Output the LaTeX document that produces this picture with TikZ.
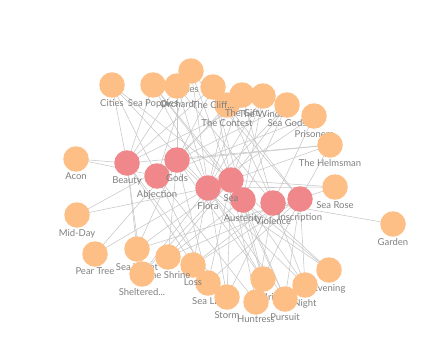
\documentclass[tikz,border=0pt]{standalone}
\usepackage{fontspec}
\setmainfont{Lato}
\pgfdeclarelayer{back}
\pgfdeclarelayer{bg}
\pgfsetlayers{back,bg,main}
\definecolor{orangenode}{RGB}{253,191,134}
\definecolor{rednode}{RGB}{239,135,139}
\definecolor{edgegray}{RGB}{200,200,200}
\definecolor{labelgray}{RGB}{128,128,128}
\tikzset{
  lbl/.style={text=labelgray,font=\fontsize{9.5}{10}\selectfont,inner sep=1pt,label distance=0pt},
  onode/.style={circle,fill=orangenode,minimum size=25.5pt,inner sep=0pt},
  rnode/.style={circle,fill=rednode,minimum size=25.5pt,inner sep=0pt},
  conn/.style={draw=edgegray,line width=0.55pt}
}
\newcommand\gnode[5]{\node[#4,label={[lbl]below:#5}] (#1) at (#2,#3) {};}
\begin{document}
\begin{tikzpicture}[x=1pt,y=-1pt]
\begin{pgfonlayer}{back}
\fill[white] (0,0) rectangle (441,359);
\end{pgfonlayer}
\useasboundingbox (0,0) rectangle (441,359);
% orange nodes
\gnode{cities}{112}{85}{onode}{Cities}
\gnode{poppies}{153}{85}{onode}{Sea Poppies}
\gnode{hermes}{191}{71}{onode}{Hermes of...}
\gnode{orchard}{177}{86}{onode}{Orchard}
\gnode{contest}{227}{105}{onode}{The Contest}
\gnode{cliff}{213}{87}{onode}{The Cliff...}
\gnode{gift}{242}{95}{onode}{The Gift}
\gnode{wind}{263}{96}{onode}{The Wind...}
\gnode{seagods}{287}{105}{onode}{Sea Gods}
\gnode{prisoners}{314}{116}{onode}{Prisoners}
\gnode{helmsman}{330}{145}{onode}{The Helmsman}
\gnode{searose}{335}{187}{onode}{Sea Rose}
\gnode{garden}{393}{224}{onode}{Garden}
\gnode{evening}{329}{270}{onode}{Evening}
\gnode{night}{305}{285}{onode}{Night}
\gnode{seairis}{263}{279}{onode}{Sea Iris}
\gnode{huntress}{256}{302}{onode}{Huntress}
\gnode{pursuit}{285}{299}{onode}{Pursuit}
\gnode{sealily}{208}{283}{onode}{Sea Lily}
\gnode{storm}{227}{297}{onode}{Storm}
\gnode{loss}{193}{265}{onode}{Loss}
\gnode{seaviolet}{137}{249}{onode}{Sea Violet}
\gnode{shrine}{168}{257}{onode}{The Shrine}
\gnode{sheltered}{142}{274}{onode}{Sheltered...}
\gnode{peartree}{95}{254}{onode}{Pear Tree}
\gnode{midday}{77}{215}{onode}{Mid-Day}
\gnode{acon}{76}{159}{onode}{Acon}
% red nodes
\gnode{beauty}{127}{163}{rnode}{Beauty}
\gnode{abjection}{157}{176}{rnode}{Abjection}
\gnode{gods}{177}{160}{rnode}{Gods}
\gnode{flora}{208}{188}{rnode}{Flora}
\gnode{austerity}{243}{200}{rnode}{Austerity}
\gnode{sea}{231}{180}{rnode}{Sea}
\gnode{violence}{273}{203}{rnode}{Violence}
\gnode{inscription}{300}{199}{rnode}{Inscription}
\begin{pgfonlayer}{bg}
\foreach \a/\b in {
  cities/beauty, cities/abjection, cities/flora, cities/sea,
  poppies/beauty, poppies/flora, poppies/sea, poppies/austerity,
  orchard/beauty, orchard/gods, orchard/flora, orchard/violence,
  hermes/abjection, hermes/flora, hermes/sea, hermes/inscription,
  cliff/beauty, cliff/gods, cliff/sea, cliff/austerity,
  gift/flora, gift/abjection, gift/violence,
  wind/sea, wind/flora, wind/austerity, wind/beauty,
  contest/gods, contest/flora, contest/inscription, contest/violence,
  seagods/sea, seagods/flora, seagods/gods, seagods/austerity,
  prisoners/flora, prisoners/violence, prisoners/abjection,
  helmsman/gods, helmsman/sea, helmsman/inscription, helmsman/beauty,
  searose/sea, searose/flora, searose/inscription,
  garden/violence,
  evening/flora, evening/austerity, evening/sea,
  night/gods, night/sea, night/violence, night/inscription,
  pursuit/flora, pursuit/sea, pursuit/austerity, pursuit/inscription,
  huntress/abjection, huntress/sea, huntress/violence,
  seairis/flora, seairis/sea, seairis/gods, seairis/inscription, seairis/austerity,
  storm/beauty, storm/flora, storm/sea, storm/violence,
  sealily/abjection, sealily/gods, sealily/sea, sealily/inscription,
  loss/beauty, loss/flora, loss/violence, loss/inscription,
  shrine/gods, shrine/sea, shrine/inscription, shrine/austerity,
  sheltered/beauty, sheltered/flora, sheltered/sea,
  seaviolet/beauty, seaviolet/gods, seaviolet/inscription, seaviolet/sea,
  peartree/flora, peartree/gods,
  midday/flora, midday/gods,
  acon/beauty, acon/abjection}
  \draw[conn] (\a.center) -- (\b.center);
\end{pgfonlayer}
\end{tikzpicture}
\end{document}
